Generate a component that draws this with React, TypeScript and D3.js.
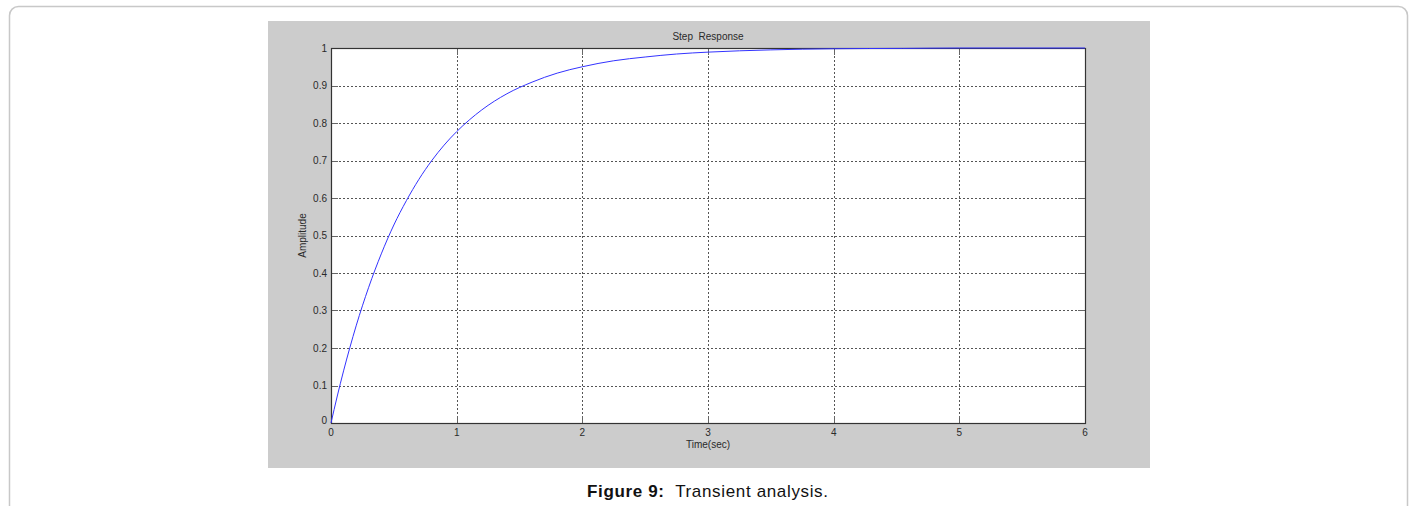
import React from "react";
import * as d3 from "d3";

const timeSec = [0, 0.05, 0.1, 0.15, 0.2, 0.3, 0.4, 0.5, 0.6, 0.7, 0.8, 0.9, 1.0, 1.1, 1.2, 1.4, 1.6, 1.8, 2.0, 2.25, 2.5, 2.75, 3.0, 3.5, 4.0, 4.55, 5.0, 6.0];
const amplitude = [0, 0.072, 0.139, 0.201, 0.259, 0.362, 0.451, 0.528, 0.593, 0.65, 0.699, 0.741, 0.777, 0.808, 0.835, 0.878, 0.909, 0.933, 0.95, 0.966, 0.976, 0.984, 0.989, 0.995, 0.998, 0.999, 1.0, 1.0];
const xTicks = [0, 1, 2, 3, 4, 5, 6];
const yTicks = [0, 0.1, 0.2, 0.3, 0.4, 0.5, 0.6, 0.7, 0.8, 0.9, 1];

const W = 1411;
const H = 506;
const panel = { x: 268, y: 21, w: 882, h: 447 };
const plot = { left: 331, right: 1085, top: 48, bottom: 423 };
const FONT = "'Liberation Sans', Arial, sans-serif";

export default function App() {
  const x = d3.scaleLinear().domain([0, 6]).range([plot.left, plot.right]);
  const y = d3.scaleLinear().domain([0, 1]).range([plot.bottom, plot.top]);
  const data = timeSec.map((t, i) => [t, amplitude[i]] as [number, number]);
  const line = d3
    .line<[number, number]>()
    .x((d) => x(d[0]))
    .y((d) => y(d[1]))
    .curve(d3.curveMonotoneX);
  const tickLen = 7;
  const labelColor = "#2a2a2a";

  return (
    <svg
      width={W}
      height={H}
      style={{ position: "absolute", left: 0, top: 0, background: "#fff" }}
    >
      <rect x={9.5} y={6.5} width={1398} height={520} rx={9} ry={9} fill="#fff" stroke="#c8c8c8" strokeWidth={1.5} />
      <rect x={panel.x} y={panel.y} width={panel.w} height={panel.h} fill="#cccccc" />
      <rect
        x={plot.left}
        y={plot.top}
        width={plot.right - plot.left}
        height={plot.bottom - plot.top}
        fill="#fff"
      />
      {/* grid */}
      <g stroke="#555" strokeWidth={1} strokeDasharray="2,2">
        {xTicks.slice(1, -1).map((t) => (
          <line key={"gx" + t} x1={Math.round(x(t)) + 0.5} x2={Math.round(x(t)) + 0.5} y1={plot.top} y2={plot.bottom} />
        ))}
        {yTicks.slice(1, -1).map((t) => (
          <line key={"gy" + t} x1={plot.left} x2={plot.right} y1={Math.round(y(t)) + 0.5} y2={Math.round(y(t)) + 0.5} />
        ))}
      </g>
      {/* ticks */}
      <g stroke="#666" strokeWidth={1}>
        {xTicks.map((t) => (
          <g key={"tx" + t}>
            <line x1={Math.round(x(t)) + 0.5} x2={Math.round(x(t)) + 0.5} y1={plot.bottom} y2={plot.bottom - tickLen} />
            <line x1={Math.round(x(t)) + 0.5} x2={Math.round(x(t)) + 0.5} y1={plot.top} y2={plot.top + tickLen} />
          </g>
        ))}
        {yTicks.map((t) => (
          <g key={"ty" + t}>
            <line x1={plot.left} x2={plot.left + tickLen} y1={Math.round(y(t)) + 0.5} y2={Math.round(y(t)) + 0.5} />
            <line x1={plot.right} x2={plot.right - tickLen} y1={Math.round(y(t)) + 0.5} y2={Math.round(y(t)) + 0.5} />
          </g>
        ))}
      </g>
      {/* box */}
      <rect
        x={plot.left + 0.5}
        y={plot.top + 0.5}
        width={plot.right - plot.left}
        height={plot.bottom - plot.top}
        fill="none"
        stroke="#333"
        strokeWidth={1.2}
      />
      {/* curve */}
      <path d={line(data) || ""} fill="none" stroke="#3333ff" strokeWidth={1} />
      {/* tick labels */}
      <g fontFamily={FONT} fontSize={10} fill={labelColor}>
        {xTicks.map((t) => (
          <text key={"lx" + t} x={x(t)} y={plot.bottom + 13} textAnchor="middle">
            {d3.format("~g")(t)}
          </text>
        ))}
        {yTicks.map((t) => (
          <text key={"ly" + t} x={plot.left - 4} y={y(t) + (t === 0 ? 1 : 3.5)} textAnchor="end">
            {d3.format("~g")(t)}
          </text>
        ))}
        <text x={(plot.left + plot.right) / 2} y={plot.bottom + 25} textAnchor="middle">
          Time(sec)
        </text>
        <text
          transform={`translate(${306},${(plot.top + plot.bottom) / 2}) rotate(-90)`}
          textAnchor="middle"
        >
          Amplitude
        </text>
        <text x={(plot.left + plot.right) / 2} y={40} textAnchor="middle" style={{ whiteSpace: "pre" }}>
          {"Step  Response"}
        </text>
      </g>
      <text
        x={587}
        y={497}
        fontFamily={FONT}
        fontSize={17}
        fill="#111"
        textLength={241}
        lengthAdjust="spacing"
        style={{ whiteSpace: "pre" }}
      >
        <tspan fontWeight="bold">Figure 9:</tspan>
        <tspan>{"  Transient analysis."}</tspan>
      </text>
    </svg>
  );
}
